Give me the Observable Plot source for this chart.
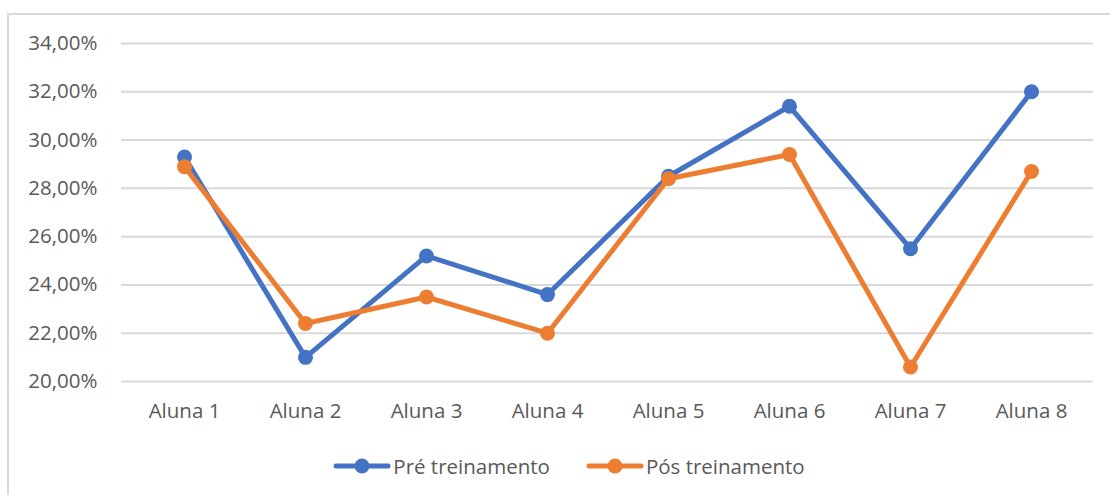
<!DOCTYPE html>
<html>
<head>
<meta charset="utf-8">
<script src="https://cdn.jsdelivr.net/npm/d3@7"></script>
<script src="https://cdn.jsdelivr.net/npm/@observablehq/plot@0.6"></script>
<style>
  body { margin: 0; background: #fff; font-family: "Open Sans", sans-serif; }
  #wrap { position: relative; width: 1110px; height: 495px; overflow: hidden; background: #fff; }
  #frame { position: absolute; left: 7px; top: 13px; width: 1120px; height: 520px; border: 2px solid #d9d9d9; box-sizing: border-box; }
  #chart { position: absolute; left: 0; top: 0; }
  #legend { position: absolute; top: 452px; left: 0; width: 1110px; display: flex; justify-content: center; gap: 36px; font-size: 20.5px; color: #595959; padding-left: 28px; box-sizing: border-box; }
  .item { display: flex; align-items: center; }
  .item svg { margin-right: 2px; }
</style>
</head>
<body>
<div id="wrap">
  <div id="frame"></div>
  <div id="chart"></div>
  <div id="legend"></div>
</div>
<script>
const categories = ["Aluna 1", "Aluna 2", "Aluna 3", "Aluna 4", "Aluna 5", "Aluna 6", "Aluna 7", "Aluna 8"];
const seriesNames = ["Pré treinamento", "Pós treinamento"];
const preValues = [29.3, 21.0, 25.2, 23.6, 28.5, 31.4, 25.5, 32.0];
const posValues = [28.9, 22.4, 23.5, 22.0, 28.4, 29.4, 20.6, 28.7];
const yTicks = [20, 22, 24, 26, 28, 30, 32, 34];
const colors = ["#4472C4", "#ED7D31"];

const pre = categories.map((c, i) => ({cat: c, value: preValues[i], series: seriesNames[0]}));
const pos = categories.map((c, i) => ({cat: c, value: posValues[i], series: seriesNames[1]}));
const fmt = d => d.toFixed(2).replace(".", ",") + "%";

const chart = Plot.plot({
  width: 1110,
  height: 440,
  marginTop: 43,
  marginBottom: 59,
  marginLeft: 121,
  marginRight: 17,
  style: {fontFamily: "'Open Sans', sans-serif", fontSize: "20.5px", color: "#595959", background: "transparent", overflow: "visible"},
  x: {type: "point", domain: categories, padding: 0.5, label: null},
  y: {domain: [20, 34], label: null},
  marks: [
    Plot.gridY(yTicks, {stroke: "#d9d9d9", strokeOpacity: 1, strokeWidth: 2}),
    Plot.axisY({ticks: yTicks, tickFormat: fmt, tickSize: 0, tickPadding: 24, label: null}),
    Plot.axisX({tickSize: 0, tickPadding: 22, label: null}),
    Plot.line(pre, {x: "cat", y: "value", stroke: colors[0], strokeWidth: 5, strokeLinejoin: "round", strokeLinecap: "round"}),
    Plot.dot(pre, {x: "cat", y: "value", fill: colors[0], r: 7.5}),
    Plot.line(pos, {x: "cat", y: "value", stroke: colors[1], strokeWidth: 5, strokeLinejoin: "round", strokeLinecap: "round"}),
    Plot.dot(pos, {x: "cat", y: "value", fill: colors[1], r: 7.5})
  ]
});
document.getElementById("chart").appendChild(chart);

const legend = document.getElementById("legend");
seriesNames.forEach((name, i) => {
  const item = document.createElement("div");
  item.className = "item";
  item.innerHTML = `<svg width="58" height="20"><line x1="3" y1="10" x2="55" y2="10" stroke="${colors[i]}" stroke-width="5" stroke-linecap="round"/><circle cx="29" cy="10" r="7.5" fill="${colors[i]}"/></svg><span>${name}</span>`;
  legend.appendChild(item);
});
</script>
</body>
</html>
